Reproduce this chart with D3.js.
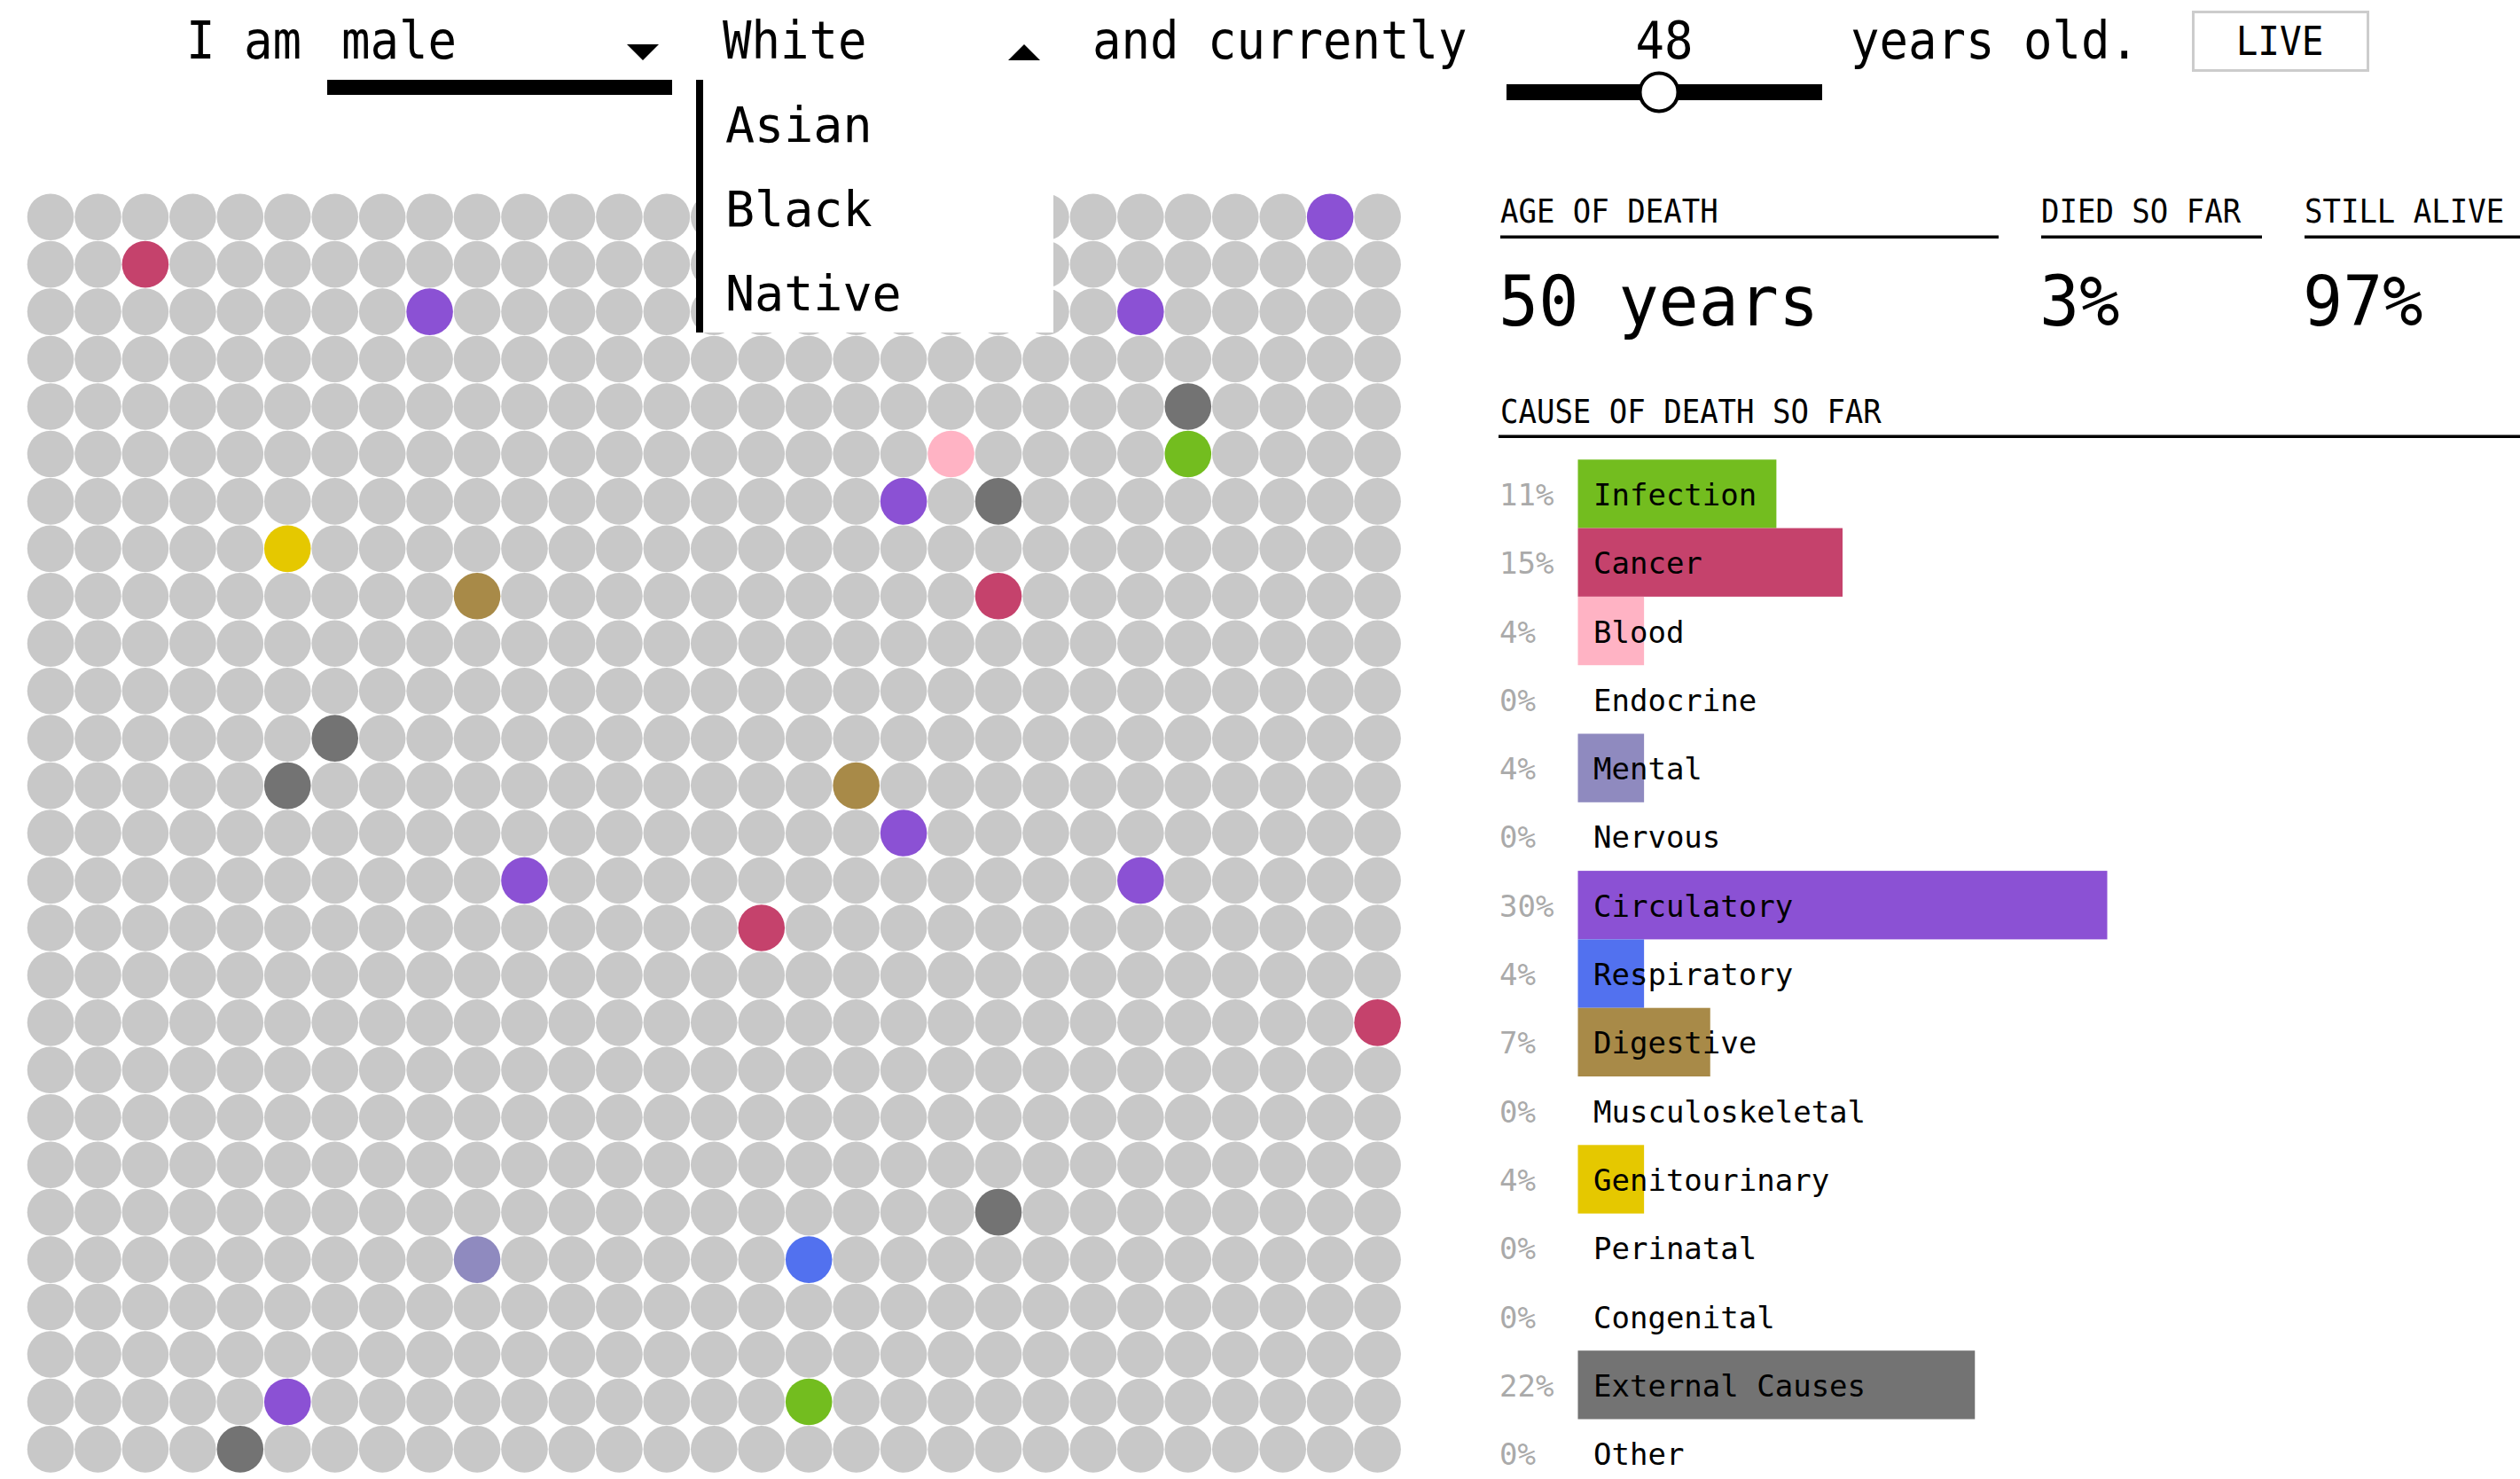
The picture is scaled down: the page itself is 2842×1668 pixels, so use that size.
<!DOCTYPE html>
<html>
<head>
<meta charset="utf-8">
<script src="https://cdnjs.cloudflare.com/ajax/libs/d3/7.8.5/d3.min.js"></script>
<style>
  html, body { margin: 0; padding: 0; background: #fff; }
  svg { display: block; }
  text { font-family: "DejaVu Sans Mono", "Liberation Mono", monospace; }
</style>
</head>
<body>
<svg id="chart" width="2842" height="1668"></svg>
<script>
// ---------- DATA ----------
const nCols = 29;
const nRows = 27;

const causes = ["Infection", "Cancer", "Blood", "Endocrine", "Mental", "Nervous",
  "Circulatory", "Respiratory", "Digestive", "Musculoskeletal", "Genitourinary",
  "Perinatal", "Congenital", "External Causes", "Other"];
const deathCounts = [3, 4, 1, 0, 1, 0, 8, 1, 2, 0, 1, 0, 0, 6, 0];
const pctLabels = ["11%", "15%", "4%", "0%", "4%", "0%", "30%", "4%", "7%", "0%", "4%", "0%", "0%", "22%", "0%"];
const causeColors = ["#73bd1f", "#c5426c", "#ffb3c4", "#e08a3c", "#8f8abf", "#4fb3a9",
  "#8b51d4", "#5271ef", "#a88a48", "#3d8ccf", "#e5c800", "#f08080", "#6fa8dc", "#737373", "#999999"];

// people who died so far: grid column, grid row, cause
const deathCols  = [27, 2, 8, 23, 24, 19, 24, 18, 20, 5, 9, 20, 6, 5, 17, 18, 10, 23, 15, 28, 20, 9, 16, 5, 16, 4, 16];
const deathRows  = [0, 1, 2, 2, 4, 5, 5, 6, 6, 7, 8, 8, 11, 12, 12, 13, 14, 14, 15, 17, 21, 22, 22, 25, 25, 26, 1];
const deathCause = ["Circulatory", "Cancer", "Circulatory", "Circulatory", "External Causes", "Blood",
  "Infection", "Circulatory", "External Causes", "Genitourinary", "Digestive", "Cancer",
  "External Causes", "External Causes", "Digestive", "Circulatory", "Circulatory", "Circulatory",
  "Cancer", "Cancer", "External Causes", "Mental", "Respiratory", "Circulatory", "Infection",
  "External Causes", "Infection"];

const raceOptions = ["Asian", "Black", "Native"];
const statLabels = ["AGE OF DEATH", "DIED SO FAR", "STILL ALIVE"];
const statValues = ["50 years", "3%", "97%"];
const currentAge = 48;

// ---------- DRAW ----------
const svg = d3.select("#chart");
const colorOf = d3.scaleOrdinal().domain(causes).range(causeColors);

// grid of people
const gx = d3.scaleLinear().domain([0, nCols - 1]).range([57, 1553.6]);
const gy = d3.scaleLinear().domain([0, nRows - 1]).range([244.7, 1634.4]);
const deadMap = new Map();
deathCols.forEach((c, i) => deadMap.set(deathRows[i] * nCols + c, deathCause[i]));
const people = d3.range(nCols * nRows).map(i => ({
  col: i % nCols, row: Math.floor(i / nCols), cause: deadMap.get(i)
}));
svg.append("g").selectAll("circle").data(people).join("circle")
  .attr("cx", d => gx(d.col))
  .attr("cy", d => gy(d.row))
  .attr("r", 26.3)
  .attr("fill", d => d.cause ? colorOf(d.cause) : "#c8c8c8");

// header sentence
function htext(x, str, anchor) {
  svg.append("text")
    .attr("transform", `translate(${x},66) scale(1,1.08)`)
    .attr("font-size", 54).attr("fill", "#000")
    .attr("text-anchor", anchor || "start")
    .text(str);
}
htext(210, "I am");
htext(385, "male");
svg.append("rect").attr("x", 369).attr("y", 90).attr("width", 389).attr("height", 17).attr("fill", "#000");
svg.append("path").attr("d", "M707,50 L743,50 L725,68 Z").attr("fill", "#000");
htext(815, "White");
svg.append("path").attr("d", "M1137,68 L1173,68 L1155,50 Z").attr("fill", "#000");
htext(1232, "and currently");
htext(1877, currentAge, "middle");
htext(2087, "years old.");

// slider
const ageScale = d3.scaleLinear().domain([0, 100]).range([1699, 2055]);
svg.append("rect").attr("x", ageScale(0)).attr("y", 95).attr("width", ageScale(100) - ageScale(0)).attr("height", 18).attr("fill", "#000");
svg.append("circle").attr("cx", 1871).attr("cy", 104).attr("r", 21.5)
  .attr("fill", "#fff").attr("stroke", "#000").attr("stroke-width", 4);

// LIVE button
svg.append("rect").attr("x", 2473.5).attr("y", 13.5).attr("width", 197).attr("height", 66)
  .attr("fill", "#fff").attr("stroke", "#cccccc").attr("stroke-width", 3);
svg.append("text").attr("transform", "translate(2571,62) scale(1,1.08)").attr("text-anchor", "middle")
  .attr("font-size", 41).text("LIVE");

// open race dropdown
svg.append("rect").attr("x", 785).attr("y", 90).attr("width", 403).attr("height", 285).attr("fill", "#fff");
svg.append("rect").attr("x", 785).attr("y", 90).attr("width", 8).attr("height", 285).attr("fill", "#000");
const optY = d3.scalePoint().domain(raceOptions).range([160, 350]);
svg.append("g").selectAll("text").data(raceOptions).join("text")
  .attr("x", 818).attr("y", d => optY(d)).attr("font-size", 55).text(d => d);

// stats
const statX = [1692, 2302, 2599];
const statEnd = [2254, 2551, 2842];
const st = svg.append("g");
statLabels.forEach((l, i) => {
  st.append("text").attr("transform", `translate(${statX[i]},251) scale(1,1.1)`).attr("font-size", 34).text(l);
  st.append("rect").attr("x", statX[i]).attr("y", 265.5).attr("width", statEnd[i] - statX[i]).attr("height", 3.5).attr("fill", "#000");
  st.append("text").attr("transform", `translate(${statX[i] - 2},367) scale(1,1.05)`).attr("font-size", 75).text(statValues[i]);
});
st.append("text").attr("transform", "translate(1692,477) scale(1,1.1)").attr("font-size", 34).text("CAUSE OF DEATH SO FAR");
st.append("rect").attr("x", 1690).attr("y", 490.5).attr("width", 2842 - 1690).attr("height", 3.5).attr("fill", "#000");

// cause bar chart
const by = d3.scaleBand().domain(causes).range([518.3, 518.3 + causes.length * 77.3]).padding(0);
const bx = d3.scaleLinear().domain([0, 8]).range([0, 597]);
const rows = svg.append("g").selectAll("g").data(causes).join("g")
  .attr("transform", d => `translate(0,${by(d)})`);
rows.append("rect")
  .attr("x", 1779.5).attr("y", 0)
  .attr("width", (d, i) => bx(deathCounts[i]))
  .attr("height", by.bandwidth())
  .attr("fill", d => colorOf(d));
rows.append("text")
  .attr("x", 1691).attr("y", by.bandwidth() / 2 + 13)
  .attr("font-size", 34).attr("fill", "#aaaaaa")
  .text((d, i) => pctLabels[i]);
rows.append("text")
  .attr("x", 1797).attr("y", by.bandwidth() / 2 + 13)
  .attr("font-size", 34).attr("fill", "#000")
  .text(d => d);
</script>
</body>
</html>
